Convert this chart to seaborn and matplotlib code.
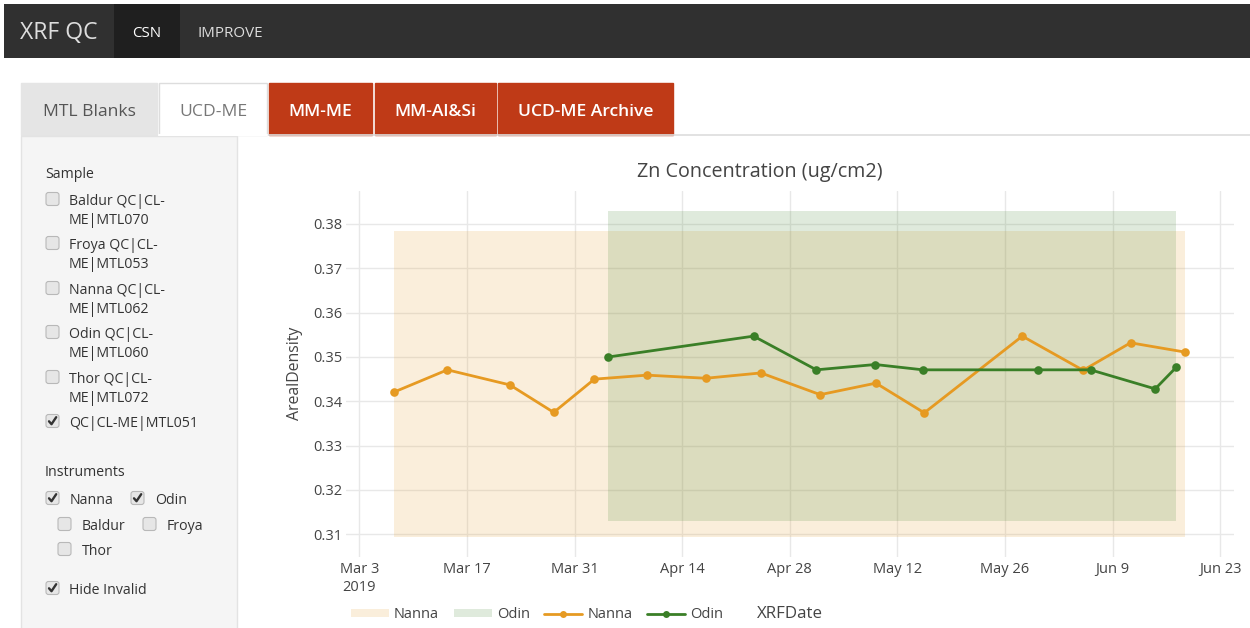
import matplotlib
matplotlib.use("Agg")
import matplotlib.pyplot as plt
from matplotlib.patches import Rectangle, FancyBboxPatch, Patch
from matplotlib.lines import Line2D
import seaborn as sns
import pandas as pd

# ---------------- data ----------------
nanna_dates = ["2019-03-07 13:00", "2019-03-14 11:00", "2019-03-22 14:00", "2019-03-28 07:00",
               "2019-04-02 14:00", "2019-04-09 10:00", "2019-04-17 02:00", "2019-04-24 06:00",
               "2019-05-01 23:00", "2019-05-09 05:00", "2019-05-15 12:00", "2019-05-28 06:00",
               "2019-06-05 04:00", "2019-06-11 08:00", "2019-06-18 10:00"]
nanna_values = [0.3421, 0.3471, 0.3437, 0.3375, 0.3450, 0.3459, 0.3452, 0.3464,
                0.3415, 0.3441, 0.3374, 0.3547, 0.3470, 0.3532, 0.3511]
odin_dates = ["2019-04-04 10:00", "2019-04-23 07:00", "2019-05-01 11:00", "2019-05-09 03:00",
              "2019-05-15 08:00", "2019-05-30 06:00", "2019-06-06 03:00", "2019-06-14 13:00",
              "2019-06-17 07:00"]
odin_values = [0.3500, 0.3547, 0.3471, 0.3483, 0.3471, 0.3471, 0.3471, 0.3428, 0.3477]

instruments = ["Nanna", "Odin"]
band_lower = [0.3095, 0.3130]
band_upper = [0.3785, 0.3830]

x_tick_dates = ["2019-03-03", "2019-03-17", "2019-03-31", "2019-04-14", "2019-04-28",
                "2019-05-12", "2019-05-26", "2019-06-09", "2019-06-23"]
x_tick_labels = ["Mar 3\n2019", "Mar 17", "Mar 31", "Apr 14", "Apr 28",
                 "May 12", "May 26", "Jun 9", "Jun 23"]
y_ticks = [0.31, 0.32, 0.33, 0.34, 0.35, 0.36, 0.37, 0.38]
y_tick_labels = ["0.31", "0.32", "0.33", "0.34", "0.35", "0.36", "0.37", "0.38"]
x_range = ["2019-03-01 06:30", "2019-06-24 19:00"]
y_range = [0.30488, 0.38744]

chart_title = "Zn Concentration (ug/cm2)"
nav_items = ["CSN", "IMPROVE"]
tab_labels = ["MTL Blanks", "UCD-ME", "MM-ME", "MM-Al&Si", "UCD-ME Archive"]
sample_options = ["Baldur QC|CL-ME|MTL070", "Froya QC|CL-ME|MTL053", "Nanna QC|CL-ME|MTL062",
                  "Odin QC|CL-ME|MTL060", "Thor QC|CL-ME|MTL072", "QC|CL-ME|MTL051"]
sample_checked = [False, False, False, False, False, True]
instrument_options = ["Nanna", "Odin", "Baldur", "Froya", "Thor"]
instrument_checked = [True, True, False, False, False]

# ---------------- style ----------------
sns.set_theme(style="white")
plt.rcParams["font.family"] = ["Open Sans", "DejaVu Sans"]

W, H = 1250, 628
fig = plt.figure(figsize=(W / 100, H / 100), dpi=100)
fig.patch.set_facecolor("white")

bg = fig.add_axes([0, 0, 1, 1], zorder=0)
bg.set_xlim(0, W)
bg.set_ylim(H, 0)
bg.axis("off")

TXT = "#333333"
DY = 1.8  # text vertical nudge (px)

# navbar
bg.add_patch(Rectangle((4, 4), W - 4, 54, fc="#303030", ec="none"))
bg.add_patch(Rectangle((114, 4), 66, 54, fc="#1f1f1f", ec="none"))
bg.text(20, 31 + DY, "XRF QC", fontsize=16.6, color="#dddddd", va="center", ha="left")
bg.text(147, 31.5 + DY, nav_items[0], fontsize=10.9, color="#ffffff", va="center", ha="center")
bg.text(230.5, 31.5 + DY, nav_items[1], fontsize=10.9, color="#dddddd", va="center", ha="center")

# tabs
bg.plot([268, W], [135, 135], color="#dddddd", lw=1.2)
tab_x = [(21, 157), (159, 267), (269, 372), (375, 496), (498, 673)]
tab_fc = ["#e5e5e5", "#ffffff", "#bf3a17", "#bf3a17", "#bf3a17"]
tab_ec = ["#e5e5e5", "#dddddd", "#bf3a17", "#bf3a17", "#bf3a17"]
tab_tc = ["#555555", "#777777", "#ffffff", "#ffffff", "#ffffff"]
tab_w = ["normal", "normal", "semibold", "semibold", "semibold"]
for (x0, x1), fc, ec, tc, fw, lab in zip(tab_x, tab_fc, tab_ec, tab_tc, tab_w, tab_labels):
    bg.add_patch(Rectangle((x0, 83), x1 - x0, 52, fc=fc, ec=ec, lw=1))
    bg.text((x0 + x1) / 2, 110 + DY, lab, fontsize=12.6, color=tc, va="center", ha="center",
            fontweight=fw)
bg.plot([159, 267], [135, 135], color="white", lw=1.5)

# sidebar panel
bg.add_patch(Rectangle((21, 136), 216, 520, fc="#f5f5f5", ec="#e3e3e3", lw=1))


def checkbox(x, yc, checked):
    bg.add_patch(FancyBboxPatch((x, yc - 6.5), 13, 13,
                                boxstyle="round,pad=0,rounding_size=2.5",
                                fc="#e6e6e6", ec="#b8b8b8", lw=0.8))
    if checked:
        bg.add_line(Line2D([x + 3, x + 5.5, x + 10.2], [yc + 0.3, yc + 3.2, yc - 3.8],
                           color="#333333", lw=1.7, solid_capstyle="round",
                           solid_joinstyle="round"))


FS = 10.2
bg.text(45, 173 + DY, "Sample", fontsize=FS, color=TXT, va="center")
sample_y = [200, 244, 289, 333, 378, 422]
for lab, chk, yc in zip(sample_options, sample_checked, sample_y):
    checkbox(46, yc - 1, chk)
    if lab.count(" ") > 0:
        first, rest = lab.split("CL-", 1)
        bg.text(69, yc + DY, first + "CL-", fontsize=FS, color=TXT, va="center")
        bg.text(69, yc + 19 + DY, rest, fontsize=FS, color=TXT, va="center")
    else:
        bg.text(69, yc + DY, lab, fontsize=FS, color=TXT, va="center")

bg.text(45, 471 + DY, "Instruments", fontsize=FS, color=TXT, va="center")
inst_pos = [(46, 70, 499), (131, 155, 499), (58, 82, 525), (143, 167, 525), (58, 82, 550)]
for lab, chk, (cx, tx, yc) in zip(instrument_options, instrument_checked, inst_pos):
    checkbox(cx, yc - 1, chk)
    bg.text(tx, yc + DY, lab, fontsize=FS, color=TXT, va="center")

checkbox(46, 588, True)
bg.text(69, 589 + DY, "Hide Invalid", fontsize=FS, color=TXT, va="center")

# ---------------- chart ----------------
colors = {"Nanna": "#E69A22", "Odin": "#3A7F27"}
df = pd.concat([
    pd.DataFrame({"XRFDate": pd.to_datetime(nanna_dates), "ArealDensity": nanna_values,
                  "Instrument": "Nanna"}),
    pd.DataFrame({"XRFDate": pd.to_datetime(odin_dates), "ArealDensity": odin_values,
                  "Instrument": "Odin"}),
], ignore_index=True)

ax = fig.add_axes([346 / W, (H - 557) / H, 888 / W, 366 / H], zorder=2)
ax.set_facecolor("none")

for inst, lo, hi in zip(instruments, band_lower, band_upper):
    sub = df[df["Instrument"] == inst]
    ax.fill_between([sub["XRFDate"].min(), sub["XRFDate"].max()], [lo, lo], [hi, hi],
                    color=colors[inst], alpha=0.16, lw=0, zorder=1)

sns.lineplot(data=df, x="XRFDate", y="ArealDensity", hue="Instrument",
             hue_order=instruments, palette=colors, marker="o", markersize=6.2,
             markeredgewidth=0, linewidth=2.0, estimator=None, legend=False, ax=ax,
             zorder=3)

ax.set_xlim(pd.to_datetime(x_range[0]), pd.to_datetime(x_range[1]))
ax.set_ylim(*y_range)
ax.set_xticks(pd.to_datetime(x_tick_dates))
ax.set_xticklabels(x_tick_labels)
ax.set_yticks(y_ticks)
ax.set_yticklabels(y_tick_labels)
ax.grid(True, color="#e8e8e8", lw=1)
ax.set_axisbelow(True)
for s in ax.spines.values():
    s.set_visible(False)
ax.tick_params(axis="both", length=0, labelsize=10.5, colors="#444444")
ax.tick_params(axis="y", pad=2.5)
ax.tick_params(axis="x", pad=3.5)
for t in ax.get_xticklabels():
    t.set_linespacing(1.25)

ax.set_ylabel("ArealDensity", fontsize=11.4, color="#444444", va="center")
ax.yaxis.set_label_coords((295 - 346) / 888, (557 - 373) / 366)
ax.set_xlabel("XRFDate", fontsize=12.2, color="#444444", va="center")
ax.xaxis.set_label_coords((790 - 346) / 888, (557 - 614.5) / 366)
ax.set_title(chart_title, fontsize=14.2, color="#444444", x=(760 - 346) / 888,
             y=(557 - 171.5) / 366, pad=0, va="center")

handles = [Patch(facecolor=colors["Nanna"], alpha=0.16, lw=0),
           Patch(facecolor=colors["Odin"], alpha=0.16, lw=0),
           Line2D([], [], color=colors["Nanna"], lw=2, marker="o", markersize=5, mew=0),
           Line2D([], [], color=colors["Odin"], lw=2, marker="o", markersize=5, mew=0)]
leg = fig.legend(handles, instruments + instruments, loc="center left",
                 bbox_to_anchor=(351 / W, 1 - 615 / H), ncol=4, frameon=False,
                 fontsize=10.5, handlelength=2.6, handleheight=0.5, handletextpad=0.35,
                 columnspacing=1.0, borderaxespad=0, borderpad=0, labelcolor="#444444")

fig.savefig("out.png", dpi=100, facecolor="white")
